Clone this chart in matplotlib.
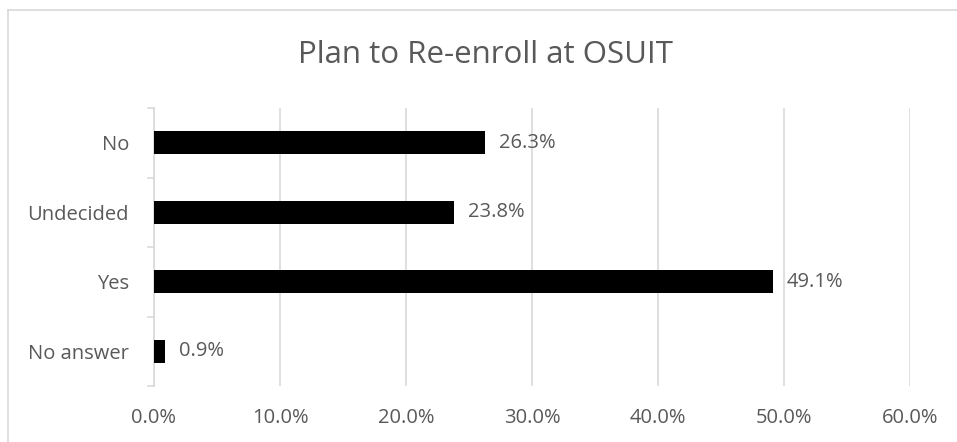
import matplotlib
matplotlib.use("Agg")
import matplotlib.pyplot as plt
from matplotlib.lines import Line2D

categories = ["No answer", "Yes", "Undecided", "No"]
values = [0.9, 49.1, 23.8, 26.3]
xticks = [0, 10, 20, 30, 40, 50, 60]
title = "Plan to Re-enroll at OSUIT"

plt.rcParams['font.family'] = ['Open Sans', 'DejaVu Sans']

fig = plt.figure(figsize=(9.57, 4.42), dpi=100)
ax = fig.add_axes([154/957, 1-386/442, (910-154)/957, (386-108)/442])

y = list(range(len(categories)))
ax.barh(y, values, height=0.33, color="black", zorder=3)
for yi, v in zip(y, values):
    ax.text(v + 1.1, yi, f"{v:.1f}%", va="center", ha="left",
            fontsize=14.5, color="#595959")

ax.set_xlim(0, 60)
ax.set_ylim(-0.5, len(categories) - 0.5)
ax.set_xticks(xticks)
ax.set_xticklabels([f"{t:.1f}%" for t in xticks], fontsize=14.5, color="#595959")
ax.set_yticks(y)
ax.set_yticklabels(categories, fontsize=14.5, color="#595959")
ax.tick_params(axis="x", length=0, pad=16)
ax.tick_params(axis="y", length=0, pad=18)

# category boundary ticks on y axis
for b in [-0.5, 0.5, 1.5, 2.5, 3.5]:
    ax.plot([-0.45, 0], [b, b], color="#d9d9d9", lw=1.2, clip_on=False, zorder=2)

ax.grid(axis="x", color="#d9d9d9", lw=1.2, zorder=0)
for s in ["top", "right", "bottom"]:
    ax.spines[s].set_visible(False)
ax.spines["left"].set_color("#d9d9d9")
ax.spines["left"].set_linewidth(1.2)

fig.text(485/957, 1-55/442, title, ha="center", va="center",
         fontsize=22.5, color="#595959")

# outer chart frame (left and top edges visible)
fig.add_artist(Line2D([8/957, 8/957], [0, 1-10/442], transform=fig.transFigure,
                      color="#d9d9d9", lw=1.2))
fig.add_artist(Line2D([8/957, 1], [1-10/442, 1-10/442], transform=fig.transFigure,
                      color="#d9d9d9", lw=1.2))

fig.savefig("out.png", dpi=100)
